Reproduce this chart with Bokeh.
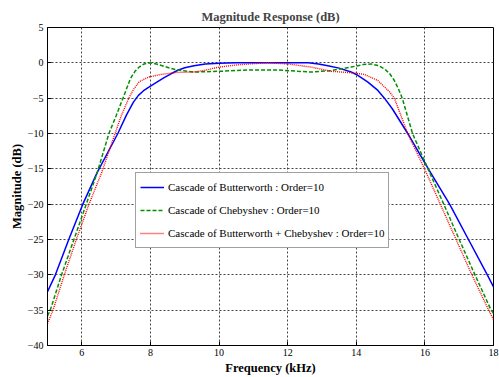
from bokeh.plotting import figure
from bokeh.models import Range1d, FixedTicker, Legend, LegendItem
from bokeh.embed import file_html
from bokeh.resources import INLINE

# ---- data ----
butter_f = [5.0, 5.23, 5.62, 6.03, 6.45, 7.05, 7.3, 7.5, 7.65, 7.8, 8.0, 8.2, 8.4, 8.6, 8.8, 9.0,
            9.27, 9.6, 10.0, 10.5, 12.6, 12.9, 13.17, 13.5, 13.85, 14.0, 14.33, 14.63, 14.82,
            15.05, 15.5, 16.1, 16.72, 17.27, 17.82, 18.0]
butter_db = [-32.4, -30.0, -25.0, -20.0, -15.5, -10.0, -7.4, -5.6, -4.6, -3.95, -3.3, -2.7, -2.1, -1.55, -1.05, -0.7,
             -0.4, -0.15, -0.05, 0.0, 0.0, -0.15, -0.4, -0.75, -1.3, -1.65, -2.7, -3.9, -5.0,
             -6.5, -10.0, -15.0, -20.0, -25.0, -30.0, -31.7]

cheby_f = [5.0, 5.08, 5.41, 5.77, 6.13, 6.45, 6.79, 7.0, 7.2, 7.42, 7.55, 7.67, 7.82, 8.0, 8.2,
           8.4, 8.6, 8.79, 9.27, 10.0, 10.9, 11.7, 12.3, 12.68, 13.27, 13.85, 14.2, 14.43,
           14.65, 14.82, 14.97, 15.11, 15.23, 15.34, 15.49, 15.64, 16.09, 16.55, 17.0, 17.46,
           17.93, 18.0]
cheby_db = [-35.8, -35.0, -30.0, -25.0, -20.0, -15.5, -10.0, -7.5, -5.0, -2.2, -1.2, -0.6, -0.15, 0.0, -0.2,
            -0.5, -0.8, -1.0, -1.3, -1.2, -1.0, -1.0, -1.2, -1.3, -1.1, -0.6, -0.25, -0.15,
            -0.4, -0.85, -1.5, -2.5, -3.7, -5.0, -7.5, -10.0, -15.0, -20.0, -25.0, -30.0,
            -35.0, -35.45]

mixed_f = [5.0, 5.16, 5.49, 5.84, 6.21, 6.58, 6.97, 7.15, 7.37, 7.5, 7.67, 7.82, 7.96, 8.3,
           8.79, 9.27, 9.6, 10.0, 10.5, 10.9, 11.4, 12.0, 12.68, 13.27, 13.85, 14.24, 14.63,
           14.97, 15.11, 15.5, 15.99, 16.45, 16.91, 17.37, 17.86, 18.0]
mixed_db = [-36.9, -35.0, -30.0, -25.0, -20.0, -15.5, -10.0, -7.5, -5.0, -3.8, -2.7, -2.3, -2.0, -1.65,
            -1.35, -1.3, -1.05, -0.6, -0.3, -0.15, 0.0, -0.15, -0.6, -1.2, -1.4, -1.65, -2.5,
            -4.1, -5.0, -10.0, -15.0, -20.0, -25.0, -30.0, -35.0, -36.3]

x_ticks = [6, 8, 10, 12, 14, 16, 18]
y_ticks = [-40, -35, -30, -25, -20, -15, -10, -5, 0, 5]

labels = ["Cascade of Butterworth : Order=10",
          "Cascade of Chebyshev : Order=10",
          "Cascade of Butterworth + Chebyshev : Order=10"]

SERIF = "Liberation Serif"

p = figure(width=499, height=377, output_backend="svg", toolbar_location=None,
           x_range=Range1d(5, 18), y_range=Range1d(-40, 5),
           min_border_left=47, min_border_right=6, min_border_top=27, min_border_bottom=32,
           title="Magnitude Response (dB)")
p.background_fill_color = "white"
p.border_fill_color = "white"
p.outline_line_color = "black"
p.outline_line_width = 1

p.title.align = "center"
p.title.text_font = SERIF
p.title.text_font_style = "bold"
p.title.text_font_size = "12.5px"
p.title.standoff = 7

for ax in (p.xaxis[0], p.yaxis[0]):
    ax.major_tick_in = 4
    ax.major_tick_out = 0
    ax.minor_tick_in = 0
    ax.minor_tick_out = 0
    ax.axis_line_color = "black"
    ax.major_label_text_font = SERIF
    ax.major_label_text_font_size = "10px"
    ax.major_label_text_color = "black"
    ax.axis_label_text_font = SERIF
    ax.axis_label_text_font_style = "bold"
    ax.axis_label_text_font_size = "12.5px"
    ax.axis_label_text_color = "black"

p.xaxis.ticker = FixedTicker(ticks=x_ticks)
p.yaxis.ticker = FixedTicker(ticks=y_ticks)
p.xaxis.axis_label = "Frequency (kHz)"
p.yaxis.axis_label = "Magnitude (dB)"
p.xaxis.major_label_standoff = 3
p.xaxis.axis_label_standoff = 2
p.yaxis.major_label_standoff = 4
p.yaxis.axis_label_standoff = 1

p.grid.grid_line_color = "#444444"
p.grid.grid_line_dash = "2 2"
p.grid.grid_line_width = 1

r1 = p.line(butter_f, butter_db, line_color="#0000ff", line_width=1.5)
r2 = p.line(cheby_f, cheby_db, line_color="#009000", line_width=1.5, line_dash="4 2")
r3 = p.line(mixed_f, mixed_db, line_color="#ff0000", line_width=1.4, line_dash="1 1")

legend = Legend(items=[LegendItem(label=labels[0], renderers=[r1]),
                       LegendItem(label=labels[1], renderers=[r2]),
                       LegendItem(label=labels[2], renderers=[r3])],
                location=(88, 97))
legend.label_text_font = SERIF
legend.label_text_font_size = "11px"
legend.label_text_color = "black"
legend.border_line_color = "#444444"
legend.border_line_width = 1
legend.background_fill_color = "white"
legend.background_fill_alpha = 1
legend.padding = 4
legend.spacing = 3
legend.margin = 0
legend.glyph_width = 24
legend.label_standoff = 4
legend.label_height = 20
p.add_layout(legend, "center")

open("out.html", "w").write(file_html(p, INLINE))
